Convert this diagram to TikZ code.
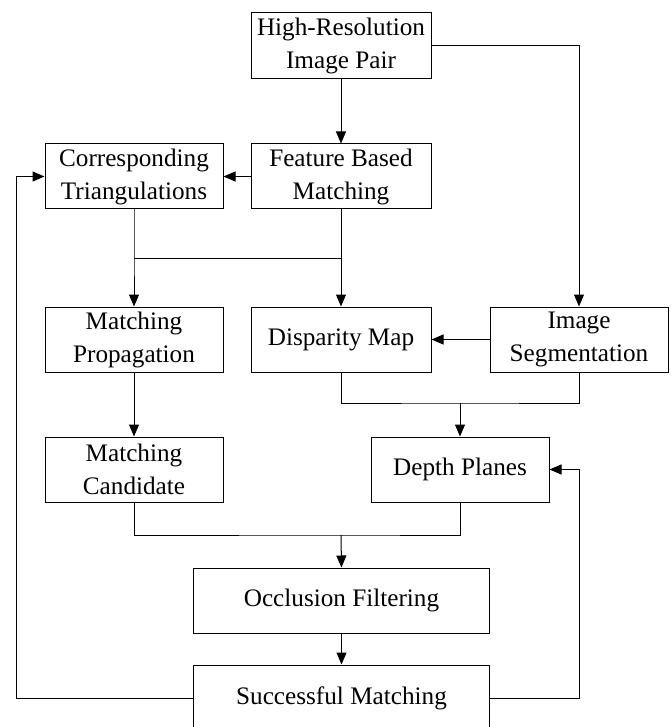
\documentclass[tikz,border=0pt]{standalone}
\usepackage{fontspec}
\setmainfont{Liberation Serif}
\usetikzlibrary{arrows.meta,calc}
\begin{document}
\begin{tikzpicture}[x=1pt,y=-1pt,
  box/.style={draw, line width=1pt, minimum width=178pt, minimum height=65pt, align=center, inner sep=1pt,
    font=\fontsize{25.2}{33}\selectfont},
  wide/.style={box, minimum width=296pt},
  link/.style={line width=1pt},
  arr/.style={link, -{Triangle[length=12pt,width=10pt]}}]
\useasboundingbox (0,0) rectangle (670,727);
\node[box, minimum width=180pt, minimum height=66pt] (hr) at (341,46) {High-Resolution\\Image Pair};
\node[box] (ct) at (134,176.5) {Corresponding\\Triangulations};
\node[box, minimum width=180pt] (fb) at (341,176.5) {Feature Based\\Matching};
\node[box] (mp) at (134,339.5) {Matching\\Propagation};
\node[box, minimum width=180pt] (dm) at (341,339.5) {Disparity Map};
\node[box] (is) at (579,339.5) {Image\\Segmentation};
\node[box] (mc) at (134,469.5) {Matching\\Candidate};
\node[box] (dp) at (460,469.5) {Depth Planes};
\node[wide] (of) at (341.5,600.5) {Occlusion Filtering};
\node[wide, minimum height=66pt] (sm) at (341.5,698) {Successful Matching};
\coordinate (j1) at (134,258);
\coordinate (j2) at (341,258);
\coordinate (j3) at (460,403);
\coordinate (j4) at (341,535);
\coordinate (lft) at (16,698);
\coordinate (rgt) at (579,698);
% connectors
\draw[arr] (hr) -- (fb);
\draw[arr] (hr.east) -| (is.north);
\draw[arr] (fb.west) -- (ct.east);
\draw[arr] (ct.south) -- (j1) -- (mp.north);
\draw[link] (j1) -- (j2);
\draw[arr] (fb.south) -- (dm.north);
\draw[arr] (is.west) -- (dm.east);
\draw[link] (dm.south) |- (j3) -| (is.south);
\draw[arr] (j3) -- (dp.north);
\draw[arr] (mp.south) -- (mc.north);
\draw[link] (mc.south) |- (j4) -| (dp.south);
\draw[arr] (j4) -- (of.north);
\draw[arr] (of.south) -- (sm.north);
\draw[arr] (sm.west) -- (lft) |- (ct.west);
\draw[arr] (sm.east) -- (rgt) |- (dp.east);
\end{tikzpicture}
\end{document}
